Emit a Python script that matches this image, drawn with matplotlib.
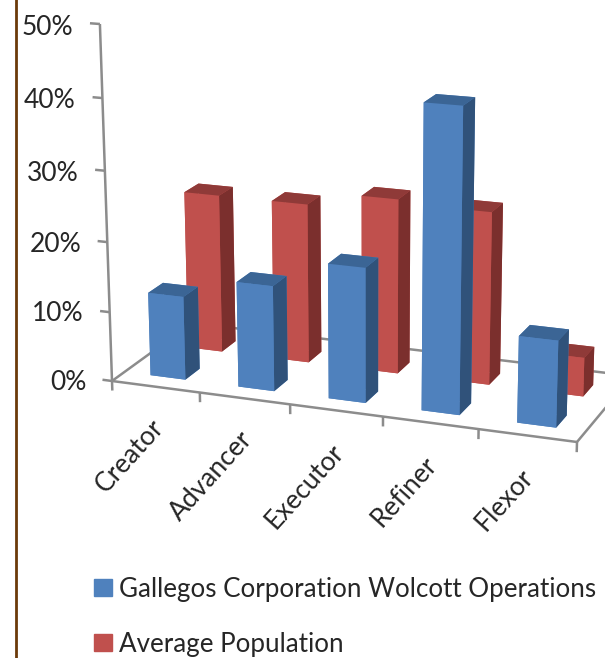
import numpy as np
import matplotlib
matplotlib.use('Agg')
import matplotlib.pyplot as plt
from matplotlib.lines import Line2D
from matplotlib.patches import Patch
from mpl_toolkits.mplot3d import Axes3D, proj3d
from mpl_toolkits.mplot3d.art3d import Line3DCollection

categories = ['Creator', 'Advancer', 'Executor', 'Refiner', 'Flexor']
gallegos = [12, 15, 19, 42, 12]
average = [23, 23, 25, 24.5, 5.5]
y_ticks = [0, 10, 20, 30, 40, 50]
series_names = ['Gallegos Corporation Wolcott Operations', 'Average Population']

plt.rcParams['font.family'] = ['Lato', 'DejaVu Sans']

W, H = 605, 658
TEXT = '#262626'
GREY = '#8c8c8c'
BLUE = ['#4f81bd', '#3b6595', '#4f81bd', '#4f81bd', '#4f81bd', '#30527a']
RED = ['#c0504d', '#8f3a38', '#c0504d', '#c0504d', '#c0504d', '#7b2f2d']


# floor corners (x 0..5, depth 0..1) -> pixels, gives the perspective of the old Excel chart
def floor_matrix():
    world = [(0, 0), (5, 0), (0, 1), (5, 1)]
    pix = [(112, 381), (577, 442), (192, 323), (632, 376)]
    a, b = [], []
    for (x, y), (u, v) in zip(world, pix):
        a.append([x, y, 1, 0, 0, 0, -u * x, -u * y])
        a.append([0, 0, 0, x, y, 1, -v * x, -v * y])
        b += [u, v]
    s = np.linalg.solve(np.array(a, float), np.array(b, float))
    return np.append(s, 1).reshape(3, 3)


h = floor_matrix()
c = (24 - 381) / (8000 * 50 - 24 * 50)   # vertical vanishing point far below the chart
row_x = np.array([h[0, 0], h[0, 1], 370 * c, h[0, 2]])
row_y = np.array([h[1, 0], h[1, 1], 8000 * c, h[1, 2]])
row_w = np.array([h[2, 0], h[2, 1], c, h[2, 2]])
M = np.array([row_x, H * row_w - row_y, [-0.1, 1, -0.01, 0], row_w])

fig = plt.figure(figsize=(W / 100, H / 100), dpi=100)
ax = fig.add_axes([0, 0, 1, 1], projection='3d', computed_zorder=False)
ax.get_proj = lambda: M
ax.apply_aspect = lambda position=None: None
ax.set_axis_off()


# text stays flat on the picture, only its anchor goes through the projection
def label(x, y, z, s, **kw):
    px, py, _ = proj3d.proj_transform(x, y, z, M)
    ax.text2D(float(px), float(py), s, transform=ax.transData, fontsize=19, color=TEXT, **kw)


# floor outline, axis and ticks
segments = [[(0, 0, 0), (5, 0, 0)], [(5, 0, 0), (5, 1, 0)], [(5, 1, 0), (0, 1, 0)],
            [(0, 1, 0), (0, 0, 0)], [(0, 0, 0), (0, 0, 50)]]
for v in y_ticks:
    segments.append([(-0.11, 0, v), (0, 0, v)])
    label(-0.3, 0, v - 0.7, '%d%%' % v, ha='right', va='center')
for k in range(6):
    segments.append([(k, 0, 0), (k, 0, -1.4)])
ax.add_collection3d(Line3DCollection(segments, colors=GREY, linewidths=1.8, zorder=1))

for k in range(5):
    label(k + 0.43, 0, -4.2, categories[k], rotation=48, rotation_mode='anchor', ha='right', va='top')

# bars, red row is behind the blue one
bar_w = 0.4
bar_d = 0.18
for k in range(5):
    ax.bar3d(k + 0.3, 0.62, 0, bar_w, bar_d, average[k], color=RED, shade=False,
             linewidth=0, zorder=2 + k * 0.01)
for k in range(5):
    ax.bar3d(k + 0.3, 0.15, 0, bar_w, bar_d, gallegos[k], color=BLUE, shade=False,
             linewidth=0, zorder=3 + k * 0.01)

ax.viewLim.intervalx = (0, W)
ax.viewLim.intervaly = (0, H)

fig.add_artist(Line2D([16 / W, 16 / W], [0, 1], color='#6b3a0a', lw=2))

handles = [Patch(color=BLUE[0]), Patch(color=RED[0])]
fig.legend(handles, series_names, loc='upper left', bbox_to_anchor=(94 / W, 1 - 577 / H),
           frameon=False, fontsize=18.7, handlelength=0.68, handleheight=0.64,
           handletextpad=0.28, labelspacing=1.15, labelcolor=TEXT, borderpad=0, borderaxespad=0)

fig.savefig('out.png', dpi=100)
